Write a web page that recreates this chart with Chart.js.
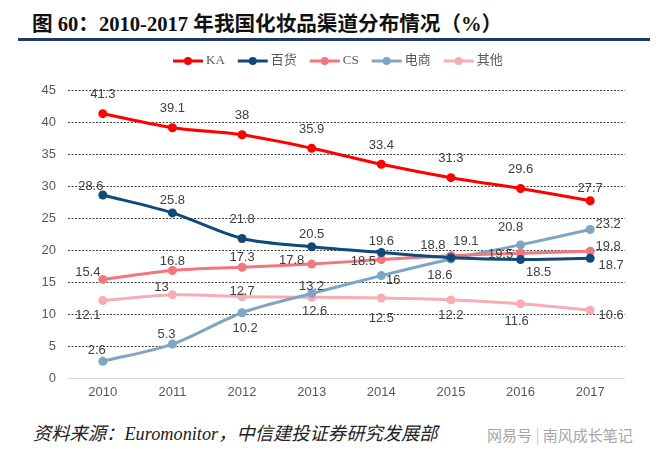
<!DOCTYPE html>
<html>
<head>
<meta charset="utf-8">
<script src="https://cdn.jsdelivr.net/npm/chart.js@4.4.1/dist/chart.umd.min.js"></script>
<style>
  body{margin:0;background:#fff;}
  #wrap{position:relative;width:660px;height:456px;overflow:hidden;}
  #title{position:absolute;left:32px;top:7px;font:bold 20.6px "Liberation Serif","Noto Sans CJK SC",serif;color:#111;white-space:nowrap;}
  #rule{position:absolute;left:18px;top:38px;width:632px;height:3px;background:#1f3b63;}
  #box{position:absolute;left:0;top:45px;width:660px;height:365px;}
  #source{position:absolute;left:33px;top:419px;font:italic 18.3px "Liberation Serif","Noto Sans CJK SC",serif;color:#222;white-space:nowrap;}
  #mark{position:absolute;left:487px;top:424px;font:15px "Noto Sans CJK SC",sans-serif;color:#a6a6a6;white-space:nowrap;}
</style>
</head>
<body>
<div id="wrap">
  <div id="title">图 60：2010-2017 年我国化妆品渠道分布情况（%）</div>
  <div id="rule"></div>
  <div id="box"><canvas id="chart" width="660" height="365"></canvas></div>
  <div id="source">资料来源：Euromonitor，中信建投证券研究发展部</div>
  <div id="mark">网易号 <span style="color:#ccc">|</span> 南风成长笔记</div>
</div>
<script>
const years=["2010","2011","2012","2013","2014","2015","2016","2017"];
const seriesNames=["KA","百货","CS","电商","其他"];
const ka=[41.3,39.1,38,35.9,33.4,31.3,29.6,27.7];
const dept=[28.6,25.8,21.8,20.5,19.6,18.8,18.5,18.7];
const cs=[15.4,16.8,17.3,17.8,18.5,19.1,19.5,19.8];
const ecom=[2.6,5.3,10.2,13.2,16,18.6,20.8,23.2];
const other=[12.1,13,12.7,12.6,12.5,12.2,11.6,10.6];

const colors=["#ff0000","#0f4a7b","#f3767d","#7ea6c4","#f7adb3"];

// where each value label sits relative to its point (dx,dy)
const labelOffsets=[
  [[0,-19],[0,-19],[0,-19],[0,-19],[0,-19],[0,-19],[0,-19],[0,-12]],
  [[-12,-9],[0,-12],[0,-19],[0,-12],[0,-11],[-18,-12],[18,13],[21,7]],
  [[-15,-7],[0,-9],[0,-10],[-20,-4],[-18,2],[15,-14],[-20,1],[18,-5]],
  [[-6,-11],[-6,-10],[3,16],[0,-7],[12,5],[-11,16],[-10,-17],[18,-5]],
  [[-15,15],[-11,-7],[0,-5],[3,14],[0,20],[0,16],[-4,18],[21,5]]
];

const gridPlugin={
  id:"grid",
  beforeDatasetsDraw(chart){
    const c=chart.ctx, y=chart.scales.y, a=chart.chartArea;
    c.save();
    y.ticks.forEach(t=>{
      const py=Math.round(y.getPixelForValue(t.value))+0.5;
      c.beginPath();
      if(t.value===0){c.setLineDash([]);c.strokeStyle="#d9d9d9";}
      else{c.setLineDash([2,1.5]);c.strokeStyle="#444";}
      c.lineWidth=1;
      c.moveTo(a.left,py);c.lineTo(a.right,py);c.stroke();
    });
    c.restore();
  }
};

const labelPlugin={
  id:"labels",
  afterDatasetsDraw(chart){
    const c=chart.ctx;
    c.save();
    c.font='13px "Liberation Sans",sans-serif';
    c.fillStyle="#404040";
    c.textAlign="center";
    c.textBaseline="middle";
    chart.data.datasets.forEach((ds,i)=>{
      chart.getDatasetMeta(i).data.forEach((pt,j)=>{
        const o=labelOffsets[i][j];
        c.fillText(String(ds.data[j]),pt.x+o[0],pt.y+o[1]);
      });
    });
    c.restore();
  }
};

const legendPlugin={
  id:"myLegend",
  afterDraw(chart){
    const c=chart.ctx;
    let x=173; const y=16;
    c.save();
    c.font='13px "Liberation Serif","Noto Sans CJK SC",serif';
    c.textBaseline="middle";
    chart.data.datasets.forEach(ds=>{
      c.strokeStyle=ds.borderColor;c.lineWidth=3;
      c.beginPath();c.moveTo(x,y);c.lineTo(x+30,y);c.stroke();
      c.fillStyle=ds.borderColor;
      c.beginPath();c.arc(x+15,y,4,0,Math.PI*2);c.fill();
      c.fillStyle="#595959";
      c.fillText(ds.label,x+33,y);
      x+=33+c.measureText(ds.label).width+13;
    });
    c.restore();
  }
};

const allData=[ka,dept,cs,ecom,other];

new Chart(document.getElementById("chart"),{
  type:"line",
  data:{
    labels:years,
    datasets:allData.map((d,i)=>({
      label:seriesNames[i],
      data:d,
      borderColor:colors[i],
      backgroundColor:colors[i],
      pointBackgroundColor:colors[i],
      pointBorderWidth:0,
      pointRadius:4.5,
      borderWidth:3,
      tension:0.3,
      fill:false
    }))
  },
  options:{
    responsive:false,
    animation:false,
    layout:{padding:{top:45,right:35,left:0,bottom:0}},
    plugins:{legend:{display:false},tooltip:{enabled:false}},
    scales:{
      x:{
        offset:true,
        grid:{display:false,drawTicks:false},
        border:{display:false},
        ticks:{color:"#595959",font:{size:13,family:'"Liberation Sans",sans-serif'},padding:7},
        afterFit(s){s.height=32;}
      },
      y:{
        min:0,max:45,
        grid:{display:false,drawTicks:false},
        border:{display:false},
        ticks:{stepSize:5,color:"#595959",font:{size:13,family:'"Liberation Sans",sans-serif'},padding:12},
        afterFit(s){s.width=68;}
      }
    }
  },
  plugins:[gridPlugin,labelPlugin,legendPlugin]
});
</script>
</body>
</html>
